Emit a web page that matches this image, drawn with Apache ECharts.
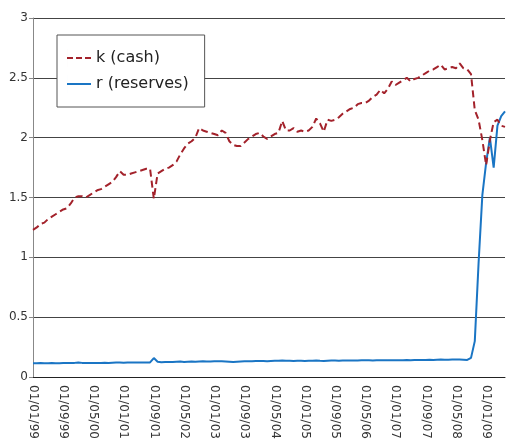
<!DOCTYPE html>
<html>
<head>
<meta charset="utf-8">
<script src="https://cdn.jsdelivr.net/npm/echarts@6/dist/echarts.min.js"></script>
<style>
  html, body { margin: 0; padding: 0; background: #fff; }
  #main { width: 506px; height: 446px; }
</style>
</head>
<body>
<div id="main"></div>
<script>
// monthly, Jan 1999 .. Jun 2009
var startYear = 1999
var monthCount = 126

// k (cash) : currency / deposits ratio
var cashK = [
  1.23, 1.25, 1.28, 1.29, 1.32, 1.34, 1.36, 1.38, 1.40, 1.41, 1.45, 1.50,
  1.51, 1.51, 1.50, 1.52, 1.54, 1.56, 1.57, 1.59, 1.61, 1.63, 1.67, 1.72,
  1.69, 1.69, 1.70, 1.71, 1.72, 1.73, 1.74, 1.74, 1.49, 1.70, 1.72, 1.74,
  1.75, 1.77, 1.80, 1.86, 1.91, 1.95, 1.97, 2.00, 2.08, 2.06, 2.05, 2.04,
  2.03, 2.02, 2.06, 2.04, 1.97, 1.94, 1.93, 1.93, 1.96, 1.99, 2.01, 2.03,
  2.04, 2.01, 1.99, 2.01, 2.03, 2.04, 2.14, 2.06, 2.06, 2.08, 2.05, 2.06,
  2.05, 2.06, 2.09, 2.16, 2.12, 2.05, 2.15, 2.14, 2.15, 2.17, 2.20, 2.22,
  2.24, 2.25, 2.28, 2.29, 2.29, 2.31, 2.34, 2.36, 2.40, 2.37, 2.41, 2.47,
  2.44, 2.46, 2.48, 2.50, 2.47, 2.49, 2.50, 2.52, 2.54, 2.56, 2.57, 2.59,
  2.61, 2.57, 2.58, 2.59, 2.58, 2.62, 2.58, 2.57, 2.53, 2.23, 2.15, 1.98,
  1.77, 1.98, 2.13, 2.15, 2.10, 2.09
]

// r (reserves)
var reservesR = [
  0.115, 0.115, 0.116, 0.115, 0.115, 0.116, 0.115, 0.115, 0.116, 0.116, 0.117, 0.118,
  0.122, 0.118, 0.117, 0.116, 0.117, 0.118, 0.118, 0.119, 0.118, 0.120, 0.122, 0.122,
  0.119, 0.121, 0.122, 0.122, 0.121, 0.122, 0.122, 0.122, 0.158, 0.128, 0.124, 0.125,
  0.126, 0.125, 0.127, 0.129, 0.126, 0.128, 0.130, 0.128, 0.130, 0.131, 0.130, 0.129,
  0.131, 0.132, 0.131, 0.130, 0.128, 0.126, 0.128, 0.130, 0.131, 0.132, 0.132, 0.133,
  0.134, 0.133, 0.132, 0.134, 0.135, 0.136, 0.138, 0.136, 0.135, 0.134, 0.136, 0.135,
  0.134, 0.135, 0.136, 0.137, 0.135, 0.134, 0.136, 0.137, 0.137, 0.136, 0.137, 0.138,
  0.138, 0.137, 0.138, 0.139, 0.140, 0.139, 0.138, 0.140, 0.141, 0.139, 0.140, 0.141,
  0.140, 0.141, 0.140, 0.142, 0.141, 0.142, 0.143, 0.142, 0.143, 0.144, 0.143, 0.145,
  0.146, 0.144, 0.145, 0.146, 0.147, 0.146, 0.145, 0.143, 0.160, 0.300, 0.950, 1.520,
  1.790, 2.000, 1.750, 2.100, 2.180, 2.220
]

var yTicks = [0, 0.5, 1, 1.5, 2, 2.5, 3]

var months = []
for (var i = 0; i < monthCount; i++) {
  var y = startYear + Math.floor(i / 12)
  var m = (i % 12) + 1
  months.push('01/' + (m < 10 ? '0' + m : m) + '/' + String(y).slice(2))
}

var chart = echarts.init(document.getElementById('main'), null, { renderer: 'canvas' })
var option = {
  animation: false,
  backgroundColor: '#fff',
  textStyle: { fontFamily: 'DejaVu Sans' },
  legend: {
    orient: 'vertical',
    left: 57,
    top: 35,
    padding: [14, 16, 14, 10],
    itemGap: 8,
    itemWidth: 24,
    itemHeight: 18,
    backgroundColor: '#fff',
    borderColor: '#555',
    borderWidth: 1,
    textStyle: { fontFamily: 'DejaVu Sans', fontSize: 16, color: '#222' },
    data: [
      // dashed sample for cash, solid bar for reserves
      { name: 'k (cash)', icon: 'path://M0,8h6v2h-6z M9,8h6v2h-6z M18,8h6v2h-6z M0,0h0.01v18h-0.01z' },
      { name: 'r (reserves)', icon: 'path://M0,8h24v2h-24z M0,0h0.01v18h-0.01z' }
    ]
  },
  grid: { left: 33, right: 1, top: 18, bottom: 69 },
  xAxis: {
    type: 'category',
    boundaryGap: false,
    data: months,
    axisLine: { lineStyle: { color: '#222', width: 1 } },
    axisTick: { show: false },
    axisLabel: {
      interval: 7,
      rotate: -90,
      margin: 8,
      fontSize: 12,
      color: '#333',
      fontFamily: 'DejaVu Sans'
    },
    splitLine: { show: false }
  },
  yAxis: {
    type: 'value',
    min: yTicks[0],
    max: yTicks[yTicks.length - 1],
    interval: 0.5,
    axisLine: { show: true, lineStyle: { color: '#888' } },
    axisTick: { show: true, length: 4, lineStyle: { color: '#888' } },
    axisLabel: { margin: 5, fontSize: 12, color: '#333', fontFamily: 'DejaVu Sans' },
    splitLine: { lineStyle: { color: '#444', width: 1 } }
  },
  series: [
    {
      name: 'k (cash)',
      type: 'line',
      symbol: 'none',
      data: cashK,
      color: '#a3222b',
      lineStyle: { color: '#a3222b', width: 2, type: [7, 4] },
      z: 3
    },
    {
      name: 'r (reserves)',
      type: 'line',
      symbol: 'none',
      data: reservesR,
      color: '#1a75c4',
      lineStyle: { color: '#1a75c4', width: 2 },
      z: 2
    }
  ]
}
chart.setOption(option)
</script>
</body>
</html>
